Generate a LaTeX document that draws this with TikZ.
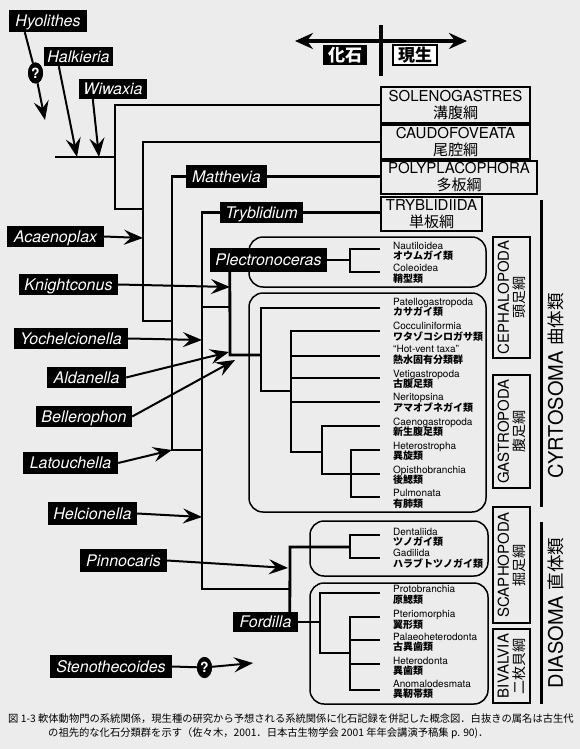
\documentclass[tikz,border=0pt]{standalone}
\usepackage{fontspec}
\setmainfont{TeX Gyre Heros}
\newfontfamily\jp{Noto Sans CJK JP}
\usetikzlibrary{arrows.meta,shapes.geometric}
\definecolor{bg}{RGB}{236,236,236}
\tikzset{
  tree/.style={line width=2.8pt, line join=miter},
  arrline/.style={line width=2pt},
  arr/.style={line width=2pt, -{Stealth[length=19pt,width=15pt,inset=7pt]}},
  fos/.style={fill=black, text=white, inner sep=0pt, font=\fontsize{16}{16}\selectfont\itshape, text height=11.5pt, text depth=0pt},
  qmark/.style={ellipse, fill=black, text=white, inner sep=0pt, minimum width=15pt, minimum height=21pt, font=\fontsize{14}{14}\selectfont\bfseries},
  cls/.style={draw, line width=1.6pt, fill=bg, align=center, inner sep=0pt, font=\fontsize{15}{17}\selectfont},
  vcls/.style={draw, line width=1.6pt, fill=bg, align=center, inner sep=0pt, rotate=90, minimum height=37pt, font=\fontsize{15}{15.5}\selectfont},
  rbox/.style={draw, line width=1.5pt, rounded corners=14pt, inner sep=0pt},
  lat/.style={inner sep=0pt, anchor=west, font=\fontsize{10}{10}\selectfont, text height=7.2pt, text depth=0pt},
  jpl/.style={inner sep=0pt, anchor=west, font=\jp\bfseries\fontsize{10}{10}\selectfont, text height=8.8pt, text depth=1.2pt},
  big/.style={rotate=90, inner sep=0pt, font=\fontsize{20}{20}\selectfont},
  capt/.style={anchor=west, inner sep=0pt, font=\jp\fontsize{10.3}{10.3}\selectfont},
}
\newcommand\fosbox[6]{\node[fos, minimum width={#4pt-#2pt}, minimum height={#5pt-#3pt}] (#1) at ({(#2+#4)/2},{(#3+#5)/2}) {#6};}
\newcommand\taxon[6]{\node[lat] (#1a) at (393,#3) {#4}; \node[jpl] (#1b) at (393,#5) {#6};}
\begin{document}
\begin{tikzpicture}[x=1pt,y=-1pt]
\fill[bg] (0,0) rectangle (580,749);
\useasboundingbox (0,0) rectangle (580,749);

% time arrow
\coordinate (tl) at (295,41); \coordinate (tr) at (467,41);
\coordinate (tt) at (381,25); \coordinate (tb) at (381,76);
\draw[line width=3.5pt, {Stealth[length=18pt,width=16pt,inset=6pt]}-{Stealth[length=18pt,width=16pt,inset=6pt]}] (tl) -- (tr);
\draw[line width=4pt] (tt) -- (tb);
\node[fill=black, text=white, minimum width=44pt, minimum height=20pt, inner sep=0pt, font=\jp\bfseries\fontsize{17}{17}\selectfont] (kaseki) at (345,55) {化石};
\node[draw, line width=1.2pt, fill=white, minimum width=44pt, minimum height=20pt, inner sep=0pt, font=\jp\bfseries\fontsize{17}{17}\selectfont] (gensei) at (415,55) {現生};

% class boxes
\node[cls, minimum width=149pt, minimum height=36pt] (sol) at (455.5,105) {SOLENOGASTRES\\{\jp 溝腹綱}};
\node[cls, minimum width=149pt, minimum height=34pt] (cau) at (455.5,142) {CAUDOFOVEATA\\{\jp 尾腔綱}};
\node[cls, minimum width=156pt, minimum height=33pt] (pol) at (459,177.5) {POLYPLACOPHORA\\{\jp 多板綱}};
\node[cls, minimum width=101pt, minimum height=34pt] (trb) at (431.5,214) {TRYBLIDIIDA\\{\jp 単板綱}};

% rounded group boxes
\node[rbox, minimum width=237pt, minimum height=50pt] (cephbox) at (367.5,262) {};
\node[rbox, minimum width=237pt, minimum height=219pt] (gastbox) at (367.5,402.5) {};
\node[rbox, minimum width=178pt, minimum height=55pt] (scapbox) at (399,548.5) {};
\node[rbox, minimum width=178pt, minimum height=121pt] (bivbox) at (399,643.5) {};

% right class labels
\node[vcls, minimum width=121pt] (cephl) at (511.5,297.5) {CEPHALOPODA\\{\jp\fontsize{14}{15}\selectfont 頭足綱}};
\node[vcls, minimum width=113pt] (gastl) at (511.5,431.5) {GASTROPODA\\{\jp\fontsize{14}{15}\selectfont 腹足綱}};
\node[vcls, minimum width=116pt] (scapl) at (511.5,565) {SCAPHOPODA\\{\jp\fontsize{14}{15}\selectfont 掘足綱}};
\node[vcls, minimum width=74pt] (bivl) at (511.5,666) {BIVALVIA\\{\jp\fontsize{14}{15}\selectfont 二枚貝綱}};

\coordinate (c1) at (541,200); \coordinate (c2) at (541,507);
\coordinate (d1) at (541,522); \coordinate (d2) at (541,704);
\draw[line width=3pt] (c1) -- (c2);
\draw[line width=3pt] (d1) -- (d2);
\node[big] (cyr) at (556,386) {CYRTOSOMA {\jp\fontsize{17.5}{17.5}\selectfont 曲体類}};
\node[big] (dia) at (556,613) {DIASOMA {\jp\fontsize{17.5}{17.5}\selectfont 直体類}};

% fossil boxes (placed first as nodes so lines can refer to them)
\fosbox{hyo}{9}{10}{87}{32}{Hyolithes}
\fosbox{hal}{44}{47}{113}{66}{Halkieria}
\fosbox{wiw}{79}{79}{147}{99}{Wiwaxia}
\fosbox{mat}{186}{165}{267}{188}{Matthevia}
\fosbox{try}{220}{202}{303}{223}{Tryblidium}
\fosbox{aca}{7}{226}{104}{247}{Acaenoplax}
\fosbox{ple}{210}{248}{327}{272}{Plectronoceras}
\fosbox{kni}{19}{274}{118}{295}{Knightconus}
\fosbox{yoc}{14}{328}{128}{349}{Yochelcionella}
\fosbox{ald}{47}{367}{126}{388}{Aldanella}
\fosbox{bel}{36}{406}{132}{427}{Bellerophon}
\fosbox{lat}{23}{452}{118}{474}{Latouchella}
\fosbox{hel}{48}{502}{137}{525}{Helcionella}
\fosbox{pin}{80}{549}{167}{572}{Pinnocaris}
\fosbox{for}{233}{612}{298}{632}{Fordilla}
\fosbox{ste}{50}{655}{172}{678}{Stenothecoides}
\node[qmark] (q1) at (35.5,73) {?};
\node[qmark] (q2) at (204.5,667.5) {?};

% taxa labels
\taxon{nau}{249}{246}{Nautiloidea}{256}{オウムガイ類}
\taxon{col}{272}{268}{Coleoidea}{279}{鞘型類}
\taxon{pat}{308}{302}{Patellogastropoda}{312}{カサガイ類}
\taxon{coc}{331}{326}{Cocculiniformia}{337}{ワタゾコシロガサ類}
\taxon{hot}{356}{349}{``Hot-vent taxa''}{360}{熱水固有分類群}
\taxon{vet}{378}{374}{Vetigastropoda}{384}{古腹足類}
\taxon{ner}{402}{397}{Neritopsina}{408}{アマオブネガイ類}
\taxon{cae}{426}{422}{Caenogastropoda}{432}{新生腹足類}
\taxon{het}{450}{446}{Heterostropha}{456}{異旋類}
\taxon{opi}{474}{470}{Opisthobranchia}{480}{後鰓類}
\taxon{pul}{497}{493}{Pulmonata}{504}{有肺類}
\taxon{den}{535}{532}{Dentaliida}{542}{ツノガイ類}
\taxon{gad}{558}{553}{Gadilida}{564}{ハラブトツノガイ類}
\taxon{pro}{593}{589}{Protobranchia}{600}{原鰓類}
\taxon{pte}{617}{614}{Pteriomorphia}{625}{翼形類}
\taxon{pal}{640}{637}{Palaeoheterodonta}{647}{古異歯類}
\taxon{hed}{664}{661}{Heterodonta}{671}{異歯類}
\taxon{ano}{690}{684}{Anomalodesmata}{694}{異靭帯類}

% tree
\begin{scope}[tree]
\coordinate (root) at (55,157);
\draw (root) -- (115,157);
\draw (sol.west) -| (115,209) -- (143,209);
\draw (cau.west) -| (143,321) -- (172,321);
\draw (mat.west) -| (172,450) -- (202,450);
\draw (mat.east) -- (mat.east -| pol.west);
\draw (try.west) -| (202,589) -- (290,589);
\draw (try.east) -- (try.east -| trb.west);
\draw (202,307) -- (230,307);
\draw ([xshift=20pt]ple.south west) -- (230,355) -- (261,355);
\draw (ple.east) -- (350,260);
\draw (380,249) -| (350,272) -- (380,272);
% gastropods
\draw (380,308) -| (261,391) -- (291,391);
\draw (380,331) -| (291,452) -- (322,452);
\draw (291,356) -- (380,356);
\draw (291,378) -- (380,378);
\draw (291,402) -- (380,402);
\draw (380,426) -| (322,474) -- (380,474);
\draw (380,450) -| (351,497) -- (380,497);
% scaphopods
\draw ([xshift=57pt]for.north west) -- (290,547) -- (350,547);
\draw (380,535) -| (350,558) -- (380,558);
% bivalves
\draw (for.east) -- (320,622);
\draw (380,593) -| (320,653) -- (350,653);
\draw (380,617) -| (350,690) -- (380,690);
\draw (350,640) -- (380,640);
\draw (350,664) -- (380,664);
\end{scope}

% fossil arrows
\coordinate (hyoT) at (45,120);
\coordinate (halT) at (77,157);
\coordinate (wiwT) at (99,157);
\coordinate (acaT) at (143,238);
\coordinate (kniT) at (230,287);
\coordinate (yocT) at (202,340);
\coordinate (aldT) at (229,352);
\coordinate (belT) at (235,360);
\coordinate (latT) at (172,450);
\coordinate (helT) at (202,517);
\coordinate (pinT) at (288,568);
\coordinate (steT) at (253,663);
\draw[arrline] ([xshift=16pt]hyo.south west) -- (q1);
\draw[arr] (q1) -- (hyoT);
\draw[arr] ([xshift=15pt]hal.south west) -- (halT);
\draw[arr] ([xshift=14pt]wiw.south west) -- (wiwT);
\draw[arr] (aca.east) -- (acaT);
\draw[arr] (kni.east) -- (kniT);
\draw[arr] (yoc.east) -- (yocT);
\draw[arr] (ald.east) -- (aldT);
\draw[arr] (bel.east) -- (belT);
\draw[arr] (lat.east) -- (latT);
\draw[arr] (hel.east) -- (helT);
\draw[arr] (pin.east) -- (pinT);
\draw[arrline] (ste.east) -- (q2);
\draw[arr] (q2) -- (steT);

% redraw fossil boxes on top
\fosbox{hyo2}{9}{10}{87}{32}{Hyolithes}
\fosbox{hal2}{44}{47}{113}{66}{Halkieria}
\fosbox{wiw2}{79}{79}{147}{99}{Wiwaxia}
\fosbox{mat2}{186}{165}{267}{188}{Matthevia}
\fosbox{try2}{220}{202}{303}{223}{Tryblidium}
\fosbox{aca2}{7}{226}{104}{247}{Acaenoplax}
\fosbox{ple2}{210}{248}{327}{272}{Plectronoceras}
\fosbox{kni2}{19}{274}{118}{295}{Knightconus}
\fosbox{yoc2}{14}{328}{128}{349}{Yochelcionella}
\fosbox{ald2}{47}{367}{126}{388}{Aldanella}
\fosbox{bel2}{36}{406}{132}{427}{Bellerophon}
\fosbox{lat2}{23}{452}{118}{474}{Latouchella}
\fosbox{hel2}{48}{502}{137}{525}{Helcionella}
\fosbox{pin2}{80}{549}{167}{572}{Pinnocaris}
\fosbox{for2}{233}{612}{298}{632}{Fordilla}
\fosbox{ste2}{50}{655}{172}{678}{Stenothecoides}
\node[qmark] (q1b) at (35.5,73) {?};
\node[qmark] (q2b) at (204.5,667.5) {?};

% caption
\node[capt] (cap1) at (8,719) {図 1-3 軟体動物門の系統関係，現生種の研究から予想される系統関係に化石記録を併記した概念図．白抜きの属名は古生代};
\node[capt] (cap2) at (48,733) {の祖先的な化石分類群を示す（佐々木，2001．日本古生物学会 2001 年年会講演予稿集 p. 90)．};
\end{tikzpicture}
\end{document}
